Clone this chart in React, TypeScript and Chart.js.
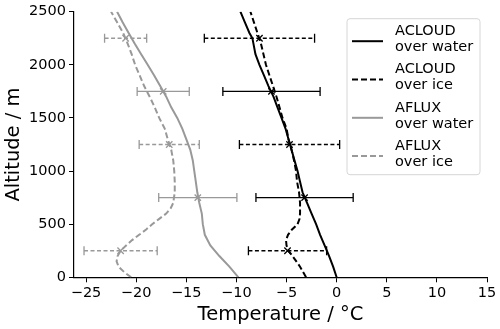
import React, { useEffect, useRef } from 'react';
import { Chart, registerables } from 'chart.js';

Chart.register(...registerables);

// ---- Data ----
const xTicks = [-25, -20, -15, -10, -5, 0, 5, 10, 15];
const yTicks = [0, 500, 1000, 1500, 2000, 2500];

const acloudWaterAlt = [0, 100, 200, 300, 400, 500, 600, 700, 800, 900, 1000, 1100, 1200, 1300, 1400, 1500, 1600, 1700, 1800, 1900, 2000, 2100, 2200, 2250, 2300, 2400, 2500];
const acloudWaterT = [0.0, -0.35, -0.75, -1.2, -1.65, -2.05, -2.5, -2.95, -3.4, -3.65, -3.9, -4.2, -4.5, -4.8, -5.1, -5.5, -5.9, -6.3, -6.8, -7.25, -7.7, -8.1, -8.3, -8.4, -8.7, -9.15, -9.6];

const acloudIceAlt = [0, 100, 200, 250, 300, 350, 400, 450, 500, 550, 600, 700, 800, 900, 1000, 1100, 1200, 1300, 1400, 1500, 1600, 1700, 1800, 1900, 2000, 2100, 2200, 2300, 2400, 2500];
const acloudIceT = [-3.05, -3.65, -4.4, -4.8, -5.0, -5.05, -4.85, -4.45, -3.9, -3.7, -3.65, -3.65, -3.75, -3.95, -4.05, -4.25, -4.5, -4.8, -5.0, -5.4, -5.7, -6.0, -6.35, -6.7, -7.05, -7.3, -7.55, -7.9, -8.25, -8.6];

const afluxWaterAlt = [0, 100, 200, 300, 400, 500, 600, 700, 800, 900, 1000, 1100, 1200, 1300, 1400, 1500, 1600, 1700, 1800, 1900, 2000, 2100, 2200, 2300, 2400, 2500];
const afluxWaterT = [-9.8, -10.7, -11.7, -12.6, -13.15, -13.35, -13.45, -13.7, -13.9, -14.05, -14.2, -14.35, -14.6, -15.0, -15.4, -15.9, -16.5, -17.0, -17.6, -18.2, -18.85, -19.5, -20.15, -20.75, -21.35, -21.9];

const afluxIceAlt = [0, 50, 100, 150, 200, 250, 300, 350, 400, 450, 500, 550, 600, 650, 700, 800, 900, 1000, 1100, 1200, 1300, 1400, 1500, 1600, 1700, 1800, 1900, 2000, 2100, 2200, 2300, 2400, 2500];
const afluxIceT = [-20.5, -21.2, -21.75, -21.95, -21.85, -21.55, -21.0, -20.4, -19.7, -19.0, -18.4, -17.7, -17.0, -16.55, -16.3, -16.15, -16.15, -16.2, -16.3, -16.5, -16.85, -17.15, -17.7, -18.15, -18.65, -19.2, -19.65, -20.1, -20.45, -20.85, -21.3, -21.9, -22.5];

// Error bars (mean, std) at given altitudes
const acloudWaterErrAlt = [750, 1750];
const acloudWaterErrMean = [-3.2, -6.5];
const acloudWaterErrStd = [4.85, 4.85];

const acloudIceErrAlt = [250, 1250, 2250];
const acloudIceErrMean = [-4.9, -4.7, -7.7];
const acloudIceErrStd = [3.9, 5.0, 5.5];

const afluxWaterErrAlt = [750, 1750];
const afluxWaterErrMean = [-13.85, -17.3];
const afluxWaterErrStd = [3.9, 2.6];

const afluxIceErrAlt = [250, 1250, 2250];
const afluxIceErrMean = [-21.55, -16.7, -21.05];
const afluxIceErrStd = [3.65, 3.0, 2.1];

const legendLabels = [
  ['ACLOUD', 'over water'],
  ['ACLOUD', 'over ice'],
  ['AFLUX', 'over water'],
  ['AFLUX', 'over ice'],
];

const BLACK = '#000000';
const GREY = '#999999';
const FONT = '"DejaVu Sans", sans-serif';

const pairs = (xs: number[], ys: number[]) => xs.map((x, i) => ({ x, y: ys[i] }));

const minus = (v: number) => (v < 0 ? '\u2212' + Math.abs(v) : String(v));

const errorBarPlugin = {
  id: 'errorBars',
  afterDatasetsDraw(chart: any) {
    const ctx = chart.ctx;
    const xs = chart.scales.x;
    const ys = chart.scales.y;
    chart.data.datasets.forEach((ds: any) => {
      if (!ds.errStd) return;
      ctx.save();
      ctx.strokeStyle = ds.borderColor;
      ctx.lineWidth = 1.3;
      ds.data.forEach((p: any, i: number) => {
        const y = ys.getPixelForValue(p.y);
        const x0 = xs.getPixelForValue(p.x - ds.errStd[i]);
        const x1 = xs.getPixelForValue(p.x + ds.errStd[i]);
        ctx.setLineDash(ds.errDash ? [4, 2.5] : []);
        ctx.beginPath();
        ctx.moveTo(x0, y);
        ctx.lineTo(x1, y);
        ctx.stroke();
        ctx.setLineDash([]);
        ctx.beginPath();
        ctx.moveTo(x0, y - 4.5);
        ctx.lineTo(x0, y + 4.5);
        ctx.moveTo(x1, y - 4.5);
        ctx.lineTo(x1, y + 4.5);
        ctx.stroke();
      });
      ctx.restore();
    });
  },
};

const legendPlugin = {
  id: 'customLegend',
  afterDraw(chart: any) {
    const ctx = chart.ctx;
    const ca = chart.chartArea;
    const w = 133;
    const h = 156;
    const right = ca.right - 7;
    const left = right - w;
    const top = ca.top + 7;
    ctx.save();
    ctx.beginPath();
    const r = 3;
    ctx.moveTo(left + r, top);
    ctx.lineTo(left + w - r, top);
    ctx.arcTo(left + w, top, left + w, top + r, r);
    ctx.lineTo(left + w, top + h - r);
    ctx.arcTo(left + w, top + h, left + w - r, top + h, r);
    ctx.lineTo(left + r, top + h);
    ctx.arcTo(left, top + h, left, top + h - r, r);
    ctx.lineTo(left, top + r);
    ctx.arcTo(left, top, left + r, top, r);
    ctx.closePath();
    ctx.fillStyle = 'rgba(255,255,255,0.85)';
    ctx.fill();
    ctx.strokeStyle = '#d6d6d6';
    ctx.lineWidth = 1;
    ctx.stroke();

    const styles = [
      { color: BLACK, dash: [] as number[] },
      { color: BLACK, dash: [6, 3] },
      { color: GREY, dash: [] as number[] },
      { color: GREY, dash: [6, 3] },
    ];
    ctx.font = `14.5px ${FONT}`;
    ctx.textBaseline = 'middle';
    ctx.textAlign = 'left';
    legendLabels.forEach((lines, i) => {
      const hy = top + 22.5 + i * 38.3;
      ctx.strokeStyle = styles[i].color;
      ctx.lineWidth = 2;
      ctx.setLineDash(styles[i].dash);
      ctx.beginPath();
      ctx.moveTo(left + 5, hy);
      ctx.lineTo(left + 36, hy);
      ctx.stroke();
      ctx.setLineDash([]);
      ctx.fillStyle = '#000';
      ctx.fillText(lines[0], left + 48, hy - 10);
      ctx.fillText(lines[1], left + 48, hy + 6);
    });
    ctx.restore();
  },
};

export default function App() {
  const ref = useRef<HTMLCanvasElement | null>(null);

  useEffect(() => {
    document.body.style.margin = '0';
    const canvas = ref.current;
    if (!canvas) return;

    const lineDs = (label: string, xs: number[], ys: number[], color: string, dash: number[]) => ({
      label,
      type: 'scatter' as const,
      data: pairs(xs, ys),
      showLine: true,
      borderColor: color,
      backgroundColor: color,
      borderWidth: 2,
      borderDash: dash,
      pointRadius: 0,
      tension: 0,
    });

    const markerDs = (label: string, means: number[], alts: number[], std: number[], color: string, dashed: boolean) => ({
      label,
      type: 'scatter' as const,
      data: pairs(means, alts),
      showLine: false,
      borderColor: color,
      backgroundColor: color,
      pointStyle: 'crossRot',
      pointRadius: 4.5,
      borderWidth: 1.3,
      errStd: std,
      errDash: dashed,
    });

    const chart = new Chart(canvas, {
      type: 'scatter',
      data: {
        datasets: [
          lineDs('ACLOUD over water', acloudWaterT, acloudWaterAlt, BLACK, []),
          lineDs('ACLOUD over ice', acloudIceT, acloudIceAlt, BLACK, [6, 3]),
          lineDs('AFLUX over water', afluxWaterT, afluxWaterAlt, GREY, []),
          lineDs('AFLUX over ice', afluxIceT, afluxIceAlt, GREY, [6, 3]),
          markerDs('ACLOUD water mean', acloudWaterErrMean, acloudWaterErrAlt, acloudWaterErrStd, BLACK, false),
          markerDs('ACLOUD ice mean', acloudIceErrMean, acloudIceErrAlt, acloudIceErrStd, BLACK, true),
          markerDs('AFLUX water mean', afluxWaterErrMean, afluxWaterErrAlt, afluxWaterErrStd, GREY, false),
          markerDs('AFLUX ice mean', afluxIceErrMean, afluxIceErrAlt, afluxIceErrStd, GREY, true),
        ] as any,
      },
      options: {
        animation: false,
        responsive: false,
        maintainAspectRatio: false,
        layout: { padding: { top: 10, right: 13, left: 0, bottom: 0 } },
        plugins: {
          legend: { display: false },
          tooltip: { enabled: false },
        },
        scales: {
          x: {
            type: 'linear',
            min: -26.2,
            max: 15,
            afterBuildTicks: (scale: any) => {
              scale.ticks = xTicks.map((v) => ({ value: v }));
            },
            afterFit: (scale: any) => {
              scale.height = 51.7;
            },
            ticks: {
              callback: (v: any) => minus(Number(v)),
              font: { family: FONT, size: 14.5 },
              color: '#000',
              padding: 2,
              maxRotation: 0,
            },
            grid: {
              display: true,
              drawOnChartArea: false,
              drawTicks: true,
              tickLength: 5,
              color: '#000',
              lineWidth: 1,
            },
            border: { display: true, color: '#000', width: 1.2 },
            title: {
              display: true,
              text: 'Temperature / °C',
              font: { family: FONT, size: 19.5 },
              color: '#000',
              padding: { top: 0, bottom: 2.3 },
            },
          },
          y: {
            type: 'linear',
            min: 0,
            max: 2500,
            afterBuildTicks: (scale: any) => {
              scale.ticks = yTicks.map((v) => ({ value: v }));
            },
            afterFit: (scale: any) => {
              scale.width = 74;
            },
            ticks: {
              callback: (v: any) => String(Number(v)),
              font: { family: FONT, size: 14.5 },
              color: '#000',
              padding: 3,
            },
            grid: {
              display: true,
              drawOnChartArea: false,
              drawTicks: true,
              tickLength: 5,
              color: '#000',
              lineWidth: 1,
            },
            border: { display: true, color: '#000', width: 1.2 },
            title: {
              display: true,
              text: 'Altitude / m',
              font: { family: FONT, size: 19.5 },
              color: '#000',
              padding: { top: 2, bottom: 0 },
            },
          },
        },
      },
      plugins: [errorBarPlugin, legendPlugin],
    });

    return () => chart.destroy();
  }, []);

  return (
    <div style={{ width: 500, height: 329 }}>
      <canvas ref={ref} width={500} height={329} style={{ display: 'block', width: 500, height: 329 }} />
    </div>
  );
}
